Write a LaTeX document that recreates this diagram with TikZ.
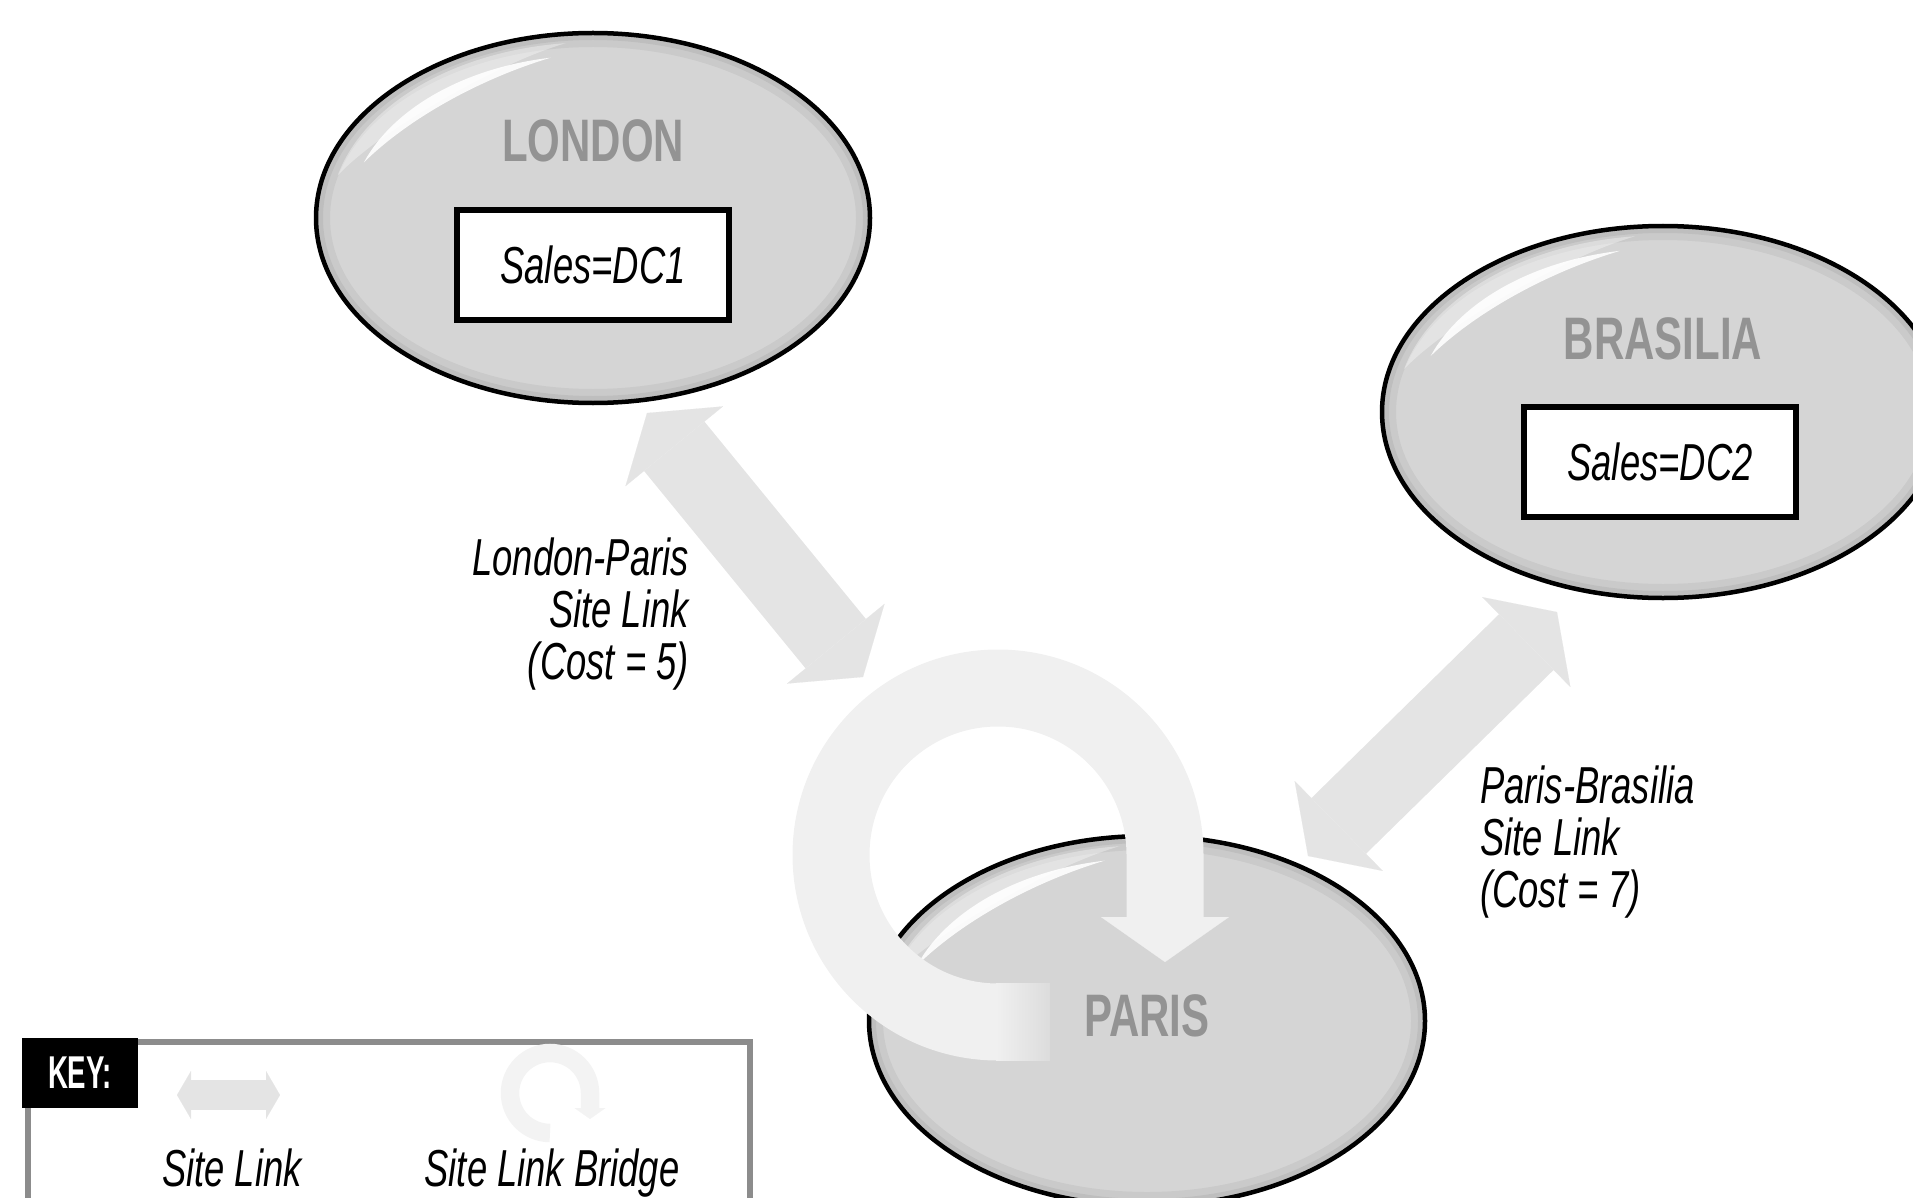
\documentclass[tikz,border=0pt]{standalone}
\usepackage{fontspec}
\usetikzlibrary{arrows.meta,shapes.geometric}

% condensed sans for all labels
\newfontfamily\condsans[FakeStretch=0.7]{Liberation Sans}
\newfontfamily\tagsans[FakeStretch=0.6]{Liberation Sans}

\definecolor{sitefill}{HTML}{D5D5D5}
\definecolor{citygray}{HTML}{939393}
\definecolor{linkgray}{HTML}{E4E4E4}
\definecolor{bridgegray}{HTML}{F0F0F0}
\definecolor{tailgray}{HTML}{DCDCDC}
\definecolor{keyloopgray}{HTML}{F3F3F3}
\definecolor{keyframegray}{HTML}{8C8C8C}

% inner rim shading and glossy highlight of a site ellipse
\newcommand\siteshade[3]{%
  \begin{scope}
    \clip (#1.center) ellipse[x radius=#2, y radius=#3];
    \draw[line width=28pt, black, opacity=0.05] (#1.center) ellipse[x radius=#2, y radius=#3];
    \draw[line width=14pt, black, opacity=0.06] (#1.center) ellipse[x radius=#2, y radius=#3];
  \end{scope}
  \begin{scope}[shift={(#1.center)}, xscale=#2, yscale=#3]
    \fill[white, opacity=0.35] (-166:0.95) arc[start angle=-166, end angle=-96, radius=0.95]
      .. controls (-113:0.905) and (-149:0.905) .. (-166:0.95);
    \fill[white, opacity=0.9] (-160:0.88) arc[start angle=-160, end angle=-100, radius=0.88]
      .. controls (-118.7:0.856) and (-141.3:0.856) .. (-160:0.88);
  \end{scope}%
}

\tikzset{
  linktip/.tip={Triangle[length=43pt, width=126pt, line width=0.1pt]},
  bridgetip/.tip={Triangle[length=45pt, width=128pt, line width=0.1pt]},
  keylinktip/.tip={Triangle[length=14pt, width=48pt, line width=0.1pt]},
  keybridgetip/.tip={Triangle[length=11pt, width=31pt, line width=0.1pt]},
}

\begin{document}
\begin{tikzpicture}[x=1pt, y=-1pt,
  site/.style={ellipse, draw=black, line width=4.5pt, fill=sitefill, inner sep=0pt},
  sitename/.style={font=\condsans\bfseries\fontsize{60}{60}\selectfont, text=citygray, inner sep=0pt},
  dcbox/.style={draw=black, line width=6pt, fill=white, minimum width=272pt, minimum height=110pt,
    inner sep=0pt, font=\condsans\itshape\fontsize{52}{52}\selectfont},
  linklabel/.style={font=\condsans\itshape\fontsize{52}{52}\selectfont, inner sep=0pt},
  sitelink/.style={draw=linkgray, line width=78pt, linktip-linktip},
  bridge/.style={draw=bridgegray, line width=77pt, -bridgetip},
  keylink/.style={draw=linkgray, line width=30pt, keylinktip-keylinktip},
  keybridge/.style={draw=keyloopgray, line width=18.5pt, -keybridgetip},
  keytag/.style={fill=black, text=white, font=\tagsans\bfseries\fontsize{46}{46}\selectfont,
    minimum width=116pt, minimum height=70pt, inner sep=0pt},
  keybox/.style={draw=keyframegray, line width=6pt, minimum width=722pt, minimum height=260pt, inner sep=0pt},
]
\useasboundingbox (0,0) rectangle (1913,1198);
\clip (0,0) rectangle (1913,1198);

% sites
\node[site, minimum width=554pt, minimum height=370pt] (london) at (593,218) {};
\siteshade{london}{277}{185}
\node[site, minimum width=562pt, minimum height=372pt] (brasilia) at (1663,412) {};
\siteshade{brasilia}{281}{186}
\node[site, minimum width=556pt, minimum height=370pt] (paris) at (1147,1021) {};
\siteshade{paris}{278}{185}

\node[sitename] (londonname) at (593,141) {LONDON};
\node[dcbox] (dc1) at (593,265) {Sales=DC1};
\node[sitename] (brasilianame) at (1663,339) {BRASILIA};
\node[dcbox] (dc2) at (1660,462) {Sales=DC2};

% site links
\coordinate (lpA) at (647,413);
\coordinate (lpB) at (863,677);
\draw[sitelink] (lpA) -- (lpB);
\coordinate (pbA) at (1308,856);
\coordinate (pbB) at (1557,612);
\draw[sitelink] (pbA) -- (pbB);

% site link bridge looping round Paris
\shade[left color=bridgegray, right color=tailgray] (996,983.5) rectangle (1050,1060.5);
\draw[bridge] (998,1022) arc[start angle=90, end angle=360, radius=167] -- (1165,962);

\node[sitename] (parisname) at (1147,1016) {PARIS};

% link labels
\node[linklabel, anchor=north east, align=right] (lplabel) at (689,538)
  {London-Paris\\Site Link\\(Cost = 5)};
\node[linklabel, anchor=north west, align=left] (pblabel) at (1480,766)
  {Paris-Brasilia\\Site Link\\(Cost = 7)};

% key
\node[keybox, anchor=north west] (keyframe) at (25,1039) {};
\node[keytag] (keytag) at (80,1073) {KEY:};
\coordinate (klA) at (177,1095);
\coordinate (klB) at (280,1095);
\draw[keylink] (klA) -- (klB);
\node[linklabel, anchor=base] (klinktext) at (232,1186) {Site Link};
\draw[keybridge] (550,1133) arc[start angle=90, end angle=360, radius=40] -- (590,1119);
\node[linklabel, anchor=base] (kbridgetext) at (552,1186) {Site Link Bridge};
\end{tikzpicture}
\end{document}
